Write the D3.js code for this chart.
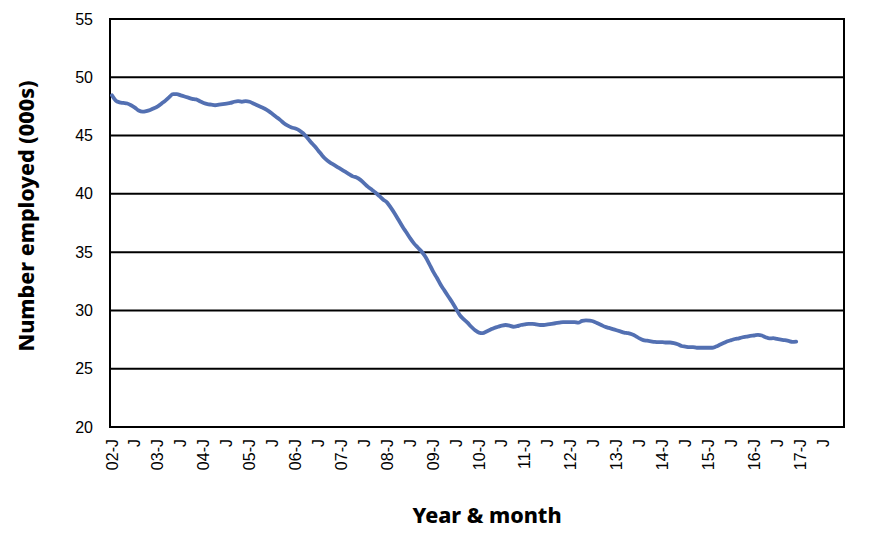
<!DOCTYPE html>
<html>
<head>
<meta charset="utf-8">
<script src="https://cdn.jsdelivr.net/npm/d3@7"></script>
<style>
  body { margin: 0; background: #fff; }
  text { fill: #000; }
</style>
</head>
<body>
<div id="canvas"></div>
<script>
// monthly values, Jan 2002 .. Dec 2016 (thousands employed)
const v2002 = [48.45, 48.0, 47.85, 47.8, 47.75, 47.6, 47.4, 47.15, 47.05, 47.1, 47.2, 47.35];
const v2003 = [47.5, 47.75, 48.0, 48.3, 48.55, 48.55, 48.45, 48.35, 48.25, 48.15, 48.1, 47.95];
const v2004 = [47.8, 47.7, 47.65, 47.6, 47.65, 47.7, 47.75, 47.8, 47.9, 47.95, 47.9, 47.95];
const v2005 = [47.9, 47.75, 47.6, 47.45, 47.3, 47.1, 46.85, 46.6, 46.35, 46.05, 45.85, 45.7];
const v2006 = [45.6, 45.45, 45.2, 44.85, 44.45, 44.1, 43.7, 43.3, 42.95, 42.7, 42.5, 42.3];
const v2007 = [42.1, 41.9, 41.7, 41.5, 41.4, 41.2, 40.9, 40.6, 40.35, 40.1, 39.8, 39.5];
const v2008 = [39.25, 38.8, 38.3, 37.75, 37.2, 36.7, 36.2, 35.75, 35.4, 35.05, 34.6, 34.0];
const v2009 = [33.35, 32.8, 32.2, 31.7, 31.2, 30.7, 30.15, 29.6, 29.25, 28.95, 28.6, 28.3];
const v2010 = [28.1, 28.05, 28.2, 28.35, 28.5, 28.6, 28.7, 28.75, 28.7, 28.6, 28.65, 28.75];
const v2011 = [28.8, 28.85, 28.85, 28.8, 28.75, 28.75, 28.8, 28.85, 28.9, 28.95, 29.0, 29.0];
const v2012 = [29.0, 29.0, 28.95, 29.1, 29.15, 29.12, 29.05, 28.9, 28.75, 28.6, 28.5, 28.4];
const v2013 = [28.3, 28.2, 28.1, 28.05, 27.95, 27.8, 27.6, 27.45, 27.4, 27.35, 27.3, 27.28];
const v2014 = [27.28, 27.25, 27.25, 27.2, 27.1, 26.95, 26.9, 26.85, 26.85, 26.8, 26.8, 26.8];
const v2015 = [26.8, 26.8, 26.9, 27.05, 27.2, 27.35, 27.45, 27.55, 27.6, 27.7, 27.75, 27.82];
const v2016 = [27.85, 27.9, 27.85, 27.7, 27.6, 27.62, 27.55, 27.5, 27.45, 27.38, 27.3, 27.32];

const years = ["02","03","04","05","06","07","08","09","10","11","12","13","14","15","16","17"];
const yTicks = [20, 25, 30, 35, 40, 45, 50, 55];

const values = [].concat(v2002, v2003, v2004, v2005, v2006, v2007, v2008, v2009,
  v2010, v2011, v2012, v2013, v2014, v2015, v2016);

// month categories for the axis: Jan 2002 .. Dec 2017
const months = [];
years.forEach(yr => { for (let m = 0; m < 12; m++) months.push(yr + "-" + m); });
const data = values.map((v, i) => ({ m: months[i], v: v }));

const width = 870, height = 540;
const margin = { top: 19, left: 110, bottom: 113, right: 26 };
const iwidth = width - margin.left - margin.right;
const iheight = height - margin.top - margin.bottom;

const svg = d3.select("#canvas").append("svg")
  .attr("width", width).attr("height", height);
const g = svg.append("g").attr("transform", `translate(${margin.left},${margin.top})`);

const x = d3.scaleBand().domain(months).range([0, iwidth]).padding(0);
const y = d3.scaleLinear().domain([20, 55]).range([iheight, 0]);

// grid
g.append("g")
  .selectAll("line").data(yTicks).enter().append("line")
  .attr("x1", 0).attr("x2", iwidth)
  .attr("y1", d => y(d)).attr("y2", d => y(d))
  .attr("stroke", "#000").attr("stroke-width", 2);

// frame
g.append("rect")
  .attr("x", 0).attr("y", 0).attr("width", iwidth).attr("height", iheight)
  .attr("fill", "none").attr("stroke", "#000").attr("stroke-width", 2);

// y axis labels
const yAxis = g.append("g")
  .call(d3.axisLeft(y).tickValues(yTicks).tickSize(0).tickPadding(17));
yAxis.select(".domain").remove();
yAxis.selectAll("text")
  .attr("font-family", "'Liberation Sans', Arial, sans-serif")
  .attr("font-size", 16).attr("fill", "#000");

// x axis: label Jan and Jul
const xTickVals = months.filter((m, i) => i % 6 === 0);
const xAxis = g.append("g")
  .attr("transform", `translate(0,${iheight})`)
  .call(d3.axisBottom(x).tickValues(xTickVals).tickSize(0)
    .tickFormat(m => {
      const parts = m.split("-");
      return parts[1] === "0" ? parts[0] + "-J" : "J";
    }));
xAxis.select(".domain").remove();
xAxis.selectAll("text")
  .attr("font-family", "'Liberation Sans', Arial, sans-serif")
  .attr("font-size", 16).attr("fill", "#000")
  .attr("transform", "rotate(-90)")
  .attr("text-anchor", "end")
  .attr("dx", "-12")
  .attr("dy", "0.35em")
  .attr("y", 0);

// line
const line = d3.line()
  .x(d => x(d.m) + x.bandwidth() / 2)
  .y(d => y(d.v))
  .curve(d3.curveMonotoneX);

g.append("path").datum(data)
  .attr("fill", "none")
  .attr("stroke", "#5370B2")
  .attr("stroke-width", 3.8)
  .attr("stroke-linejoin", "round")
  .attr("stroke-linecap", "round")
  .attr("d", line);

// axis titles
svg.append("text")
  .attr("transform", `translate(34,${216}) rotate(-90)`)
  .attr("text-anchor", "middle")
  .attr("font-family", "'Noto Sans', sans-serif")
  .attr("font-weight", 800)
  .attr("font-size", 21.5)
  .text("Number employed (000s)");

svg.append("text")
  .attr("x", 487)
  .attr("y", 523)
  .attr("text-anchor", "middle")
  .attr("font-family", "'Noto Sans', sans-serif")
  .attr("font-weight", 800)
  .attr("font-size", 21.5)
  .text("Year & month");
</script>
</body>
</html>
